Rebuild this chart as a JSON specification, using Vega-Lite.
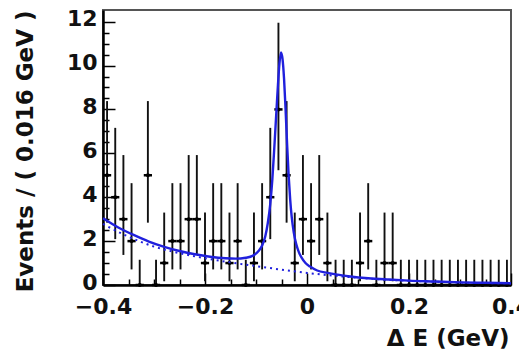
{
  "$schema": "https://vega.github.io/schema/vega-lite/v6.json",
  "width": 408,
  "height": 275,
  "autosize": "none",
  "padding": {"left": 103, "top": 10, "right": 8, "bottom": 66},
  "background": "white",
  "config": {
    "view": {"stroke": "#555555", "strokeWidth": 2},
    "axis": {
      "labelFont": "DejaVu Sans", "labelFontWeight": "bold", "labelFontSize": 22, "labelColor": "#111111",
      "titleFont": "DejaVu Sans", "titleFontWeight": "bold", "titleColor": "#111111",
      "domainColor": "#000000", "domainWidth": 2.5, "tickColor": "#000000", "tickWidth": 1.5,
      "grid": false
    }
  },
  "datasets": {
    "hist": [
      {"x": -0.392, "n": 5, "lo": 2.84, "hi": 8.38},
      {"x": -0.376, "n": 4, "lo": 2.09, "hi": 7.16},
      {"x": -0.36, "n": 3, "lo": 1.37, "hi": 5.92},
      {"x": -0.344, "n": 2, "lo": 0.71, "hi": 4.64},
      {"x": -0.328, "n": 0, "lo": 0, "hi": 1.15},
      {"x": -0.312, "n": 5, "lo": 2.84, "hi": 8.38},
      {"x": -0.296, "n": 0, "lo": 0, "hi": 1.15},
      {"x": -0.28, "n": 1, "lo": 0.17, "hi": 3.3},
      {"x": -0.264, "n": 2, "lo": 0.71, "hi": 4.64},
      {"x": -0.248, "n": 2, "lo": 0.71, "hi": 4.64},
      {"x": -0.232, "n": 3, "lo": 1.37, "hi": 5.92},
      {"x": -0.216, "n": 3, "lo": 1.37, "hi": 5.92},
      {"x": -0.2, "n": 1, "lo": 0.17, "hi": 3.3},
      {"x": -0.184, "n": 2, "lo": 0.71, "hi": 4.64},
      {"x": -0.168, "n": 2, "lo": 0.71, "hi": 4.64},
      {"x": -0.152, "n": 1, "lo": 0.17, "hi": 3.3},
      {"x": -0.136, "n": 2, "lo": 0.71, "hi": 4.64},
      {"x": -0.12, "n": 0, "lo": 0, "hi": 1.15},
      {"x": -0.104, "n": 1, "lo": 0.17, "hi": 3.3},
      {"x": -0.088, "n": 2, "lo": 0.71, "hi": 4.64},
      {"x": -0.072, "n": 4, "lo": 2.09, "hi": 7.16},
      {"x": -0.056, "n": 8, "lo": 5.23, "hi": 11.95},
      {"x": -0.04, "n": 5, "lo": 2.84, "hi": 8.38},
      {"x": -0.024, "n": 1, "lo": 0.17, "hi": 3.3},
      {"x": -0.008, "n": 3, "lo": 1.37, "hi": 5.92},
      {"x": 0.008, "n": 2, "lo": 0.71, "hi": 4.64},
      {"x": 0.024, "n": 3, "lo": 1.37, "hi": 5.92},
      {"x": 0.04, "n": 1, "lo": 0.17, "hi": 3.3},
      {"x": 0.056, "n": 0, "lo": 0, "hi": 1.15},
      {"x": 0.072, "n": 0, "lo": 0, "hi": 1.15},
      {"x": 0.088, "n": 0, "lo": 0, "hi": 1.15},
      {"x": 0.104, "n": 1, "lo": 0.17, "hi": 3.3},
      {"x": 0.12, "n": 2, "lo": 0.71, "hi": 4.64},
      {"x": 0.136, "n": 0, "lo": 0, "hi": 1.15},
      {"x": 0.152, "n": 1, "lo": 0.17, "hi": 3.3},
      {"x": 0.168, "n": 1, "lo": 0.17, "hi": 3.3},
      {"x": 0.184, "n": 0, "lo": 0, "hi": 1.15},
      {"x": 0.2, "n": 0, "lo": 0, "hi": 1.15},
      {"x": 0.216, "n": 0, "lo": 0, "hi": 1.15},
      {"x": 0.232, "n": 0, "lo": 0, "hi": 1.15},
      {"x": 0.248, "n": 0, "lo": 0, "hi": 1.15},
      {"x": 0.264, "n": 0, "lo": 0, "hi": 1.15},
      {"x": 0.28, "n": 0, "lo": 0, "hi": 1.15},
      {"x": 0.296, "n": 0, "lo": 0, "hi": 1.15},
      {"x": 0.312, "n": 0, "lo": 0, "hi": 1.15},
      {"x": 0.328, "n": 0, "lo": 0, "hi": 1.15},
      {"x": 0.344, "n": 0, "lo": 0, "hi": 1.15},
      {"x": 0.36, "n": 0, "lo": 0, "hi": 1.15},
      {"x": 0.376, "n": 0, "lo": 0, "hi": 1.15},
      {"x": 0.392, "n": 0, "lo": 0, "hi": 1.15}
    ],
    "total": [
      {"x": -0.4, "y": 3.04}, {"x": -0.37, "y": 2.62}, {"x": -0.34, "y": 2.28}, {"x": -0.31, "y": 1.98},
      {"x": -0.28, "y": 1.74}, {"x": -0.25, "y": 1.55}, {"x": -0.22, "y": 1.4}, {"x": -0.19, "y": 1.29},
      {"x": -0.16, "y": 1.22}, {"x": -0.14, "y": 1.2}, {"x": -0.12, "y": 1.24}, {"x": -0.105, "y": 1.35},
      {"x": -0.095, "y": 1.55}, {"x": -0.088, "y": 1.8}, {"x": -0.082, "y": 2.2}, {"x": -0.077, "y": 2.8},
      {"x": -0.072, "y": 3.7}, {"x": -0.068, "y": 4.8}, {"x": -0.064, "y": 6.3}, {"x": -0.06, "y": 7.9},
      {"x": -0.057, "y": 9.1}, {"x": -0.054, "y": 10.1}, {"x": -0.051, "y": 10.6}, {"x": -0.048, "y": 10.3},
      {"x": -0.045, "y": 9.4}, {"x": -0.042, "y": 8.0}, {"x": -0.039, "y": 6.4}, {"x": -0.036, "y": 5.0},
      {"x": -0.033, "y": 3.9}, {"x": -0.03, "y": 3.1}, {"x": -0.026, "y": 2.4}, {"x": -0.021, "y": 1.85},
      {"x": -0.016, "y": 1.5}, {"x": -0.01, "y": 1.22}, {"x": -0.003, "y": 1.0}, {"x": 0.006, "y": 0.84},
      {"x": 0.02, "y": 0.66}, {"x": 0.04, "y": 0.55}, {"x": 0.06, "y": 0.47}, {"x": 0.085, "y": 0.39},
      {"x": 0.12, "y": 0.31}, {"x": 0.16, "y": 0.25}, {"x": 0.2, "y": 0.2}, {"x": 0.25, "y": 0.16},
      {"x": 0.3, "y": 0.12}, {"x": 0.35, "y": 0.1}, {"x": 0.4, "y": 0.08}
    ],
    "bkg": [
      {"x": -0.4, "y": 2.78}, {"x": -0.35, "y": 2.2}, {"x": -0.3, "y": 1.75}, {"x": -0.25, "y": 1.45},
      {"x": -0.2, "y": 1.22}, {"x": -0.15, "y": 1.03}, {"x": -0.1, "y": 0.86}, {"x": -0.05, "y": 0.7},
      {"x": 0.0, "y": 0.55}, {"x": 0.05, "y": 0.43}, {"x": 0.1, "y": 0.33}, {"x": 0.15, "y": 0.25},
      {"x": 0.2, "y": 0.19}, {"x": 0.25, "y": 0.15}, {"x": 0.3, "y": 0.11}, {"x": 0.35, "y": 0.09},
      {"x": 0.4, "y": 0.07}
    ]
  },
  "encoding": {
    "x": {
      "field": "x", "type": "quantitative",
      "scale": {"domain": [-0.4, 0.4], "nice": false, "zero": false},
      "axis": {
        "title": "Δ E (GeV)", "titleFontSize": 23, "titleAnchor": "end", "titleAlign": "right",
        "titleX": 406, "titleY": 60, "titleBaseline": "alphabetic",
        "values": [-0.4, -0.35, -0.3, -0.25, -0.2, -0.15, -0.1, -0.05, 0, 0.05, 0.1, 0.15, 0.2, 0.25, 0.3, 0.35, 0.4],
        "labelExpr": "round(datum.value*20) % 4 == 0 ? (datum.value == 0 ? '0' : format(datum.value, '.1f')) : ''",
        "tickSize": {"condition": {"test": "round(datum.value*20) % 4 == 0", "value": -12}, "value": -6},
        "labelPadding": 23, "labelFlush": false, "labelOverlap": false, "labelBound": false
      }
    },
    "y": {
      "type": "quantitative",
      "scale": {"domain": [0, 12.53], "nice": false, "zero": true},
      "axis": {
        "title": "Events / ( 0.016 GeV )", "titleFontSize": 23, "titleAngle": -90,
        "titleAlign": "right", "titleBaseline": "alphabetic", "titleX": -71, "titleY": 0,
        "values": [0, 0.5, 1, 1.5, 2, 2.5, 3, 3.5, 4, 4.5, 5, 5.5, 6, 6.5, 7, 7.5, 8, 8.5, 9, 9.5, 10, 10.5, 11, 11.5, 12],
        "labelExpr": "round(datum.value*2) % 4 == 0 ? format(datum.value, 'd') : ''",
        "tickSize": {"condition": {"test": "round(datum.value*2) % 4 == 0", "value": -12}, "value": -6},
        "labelPadding": 18, "labelOffset": -3, "labelOverlap": false, "labelFlush": false, "labelBound": false
      }
    }
  },
  "layer": [
    {
      "data": {"name": "hist"},
      "mark": {"type": "rule", "color": "#111111", "strokeWidth": 1.9},
      "encoding": {"y": {"field": "lo", "type": "quantitative"}, "y2": {"field": "hi"}}
    },
    {
      "data": {"name": "hist"},
      "mark": {"type": "tick", "orient": "horizontal", "color": "#000000", "size": 8.2, "thickness": 2.5, "opacity": 1},
      "encoding": {"y": {"field": "n", "type": "quantitative"}}
    },
    {
      "data": {"name": "hist"},
      "mark": {"type": "point", "shape": "circle", "filled": true, "color": "#000000", "size": 16, "opacity": 1},
      "encoding": {"y": {"field": "n", "type": "quantitative"}}
    },
    {
      "data": {"name": "bkg"},
      "mark": {"type": "line", "color": "#2020dd", "strokeWidth": 2, "strokeDash": [2, 4], "interpolate": "monotone"},
      "encoding": {"y": {"field": "y", "type": "quantitative"}}
    },
    {
      "data": {"name": "total"},
      "mark": {"type": "line", "color": "#2020dd", "strokeWidth": 2.4, "interpolate": "monotone"},
      "encoding": {"y": {"field": "y", "type": "quantitative"}}
    }
  ]
}
